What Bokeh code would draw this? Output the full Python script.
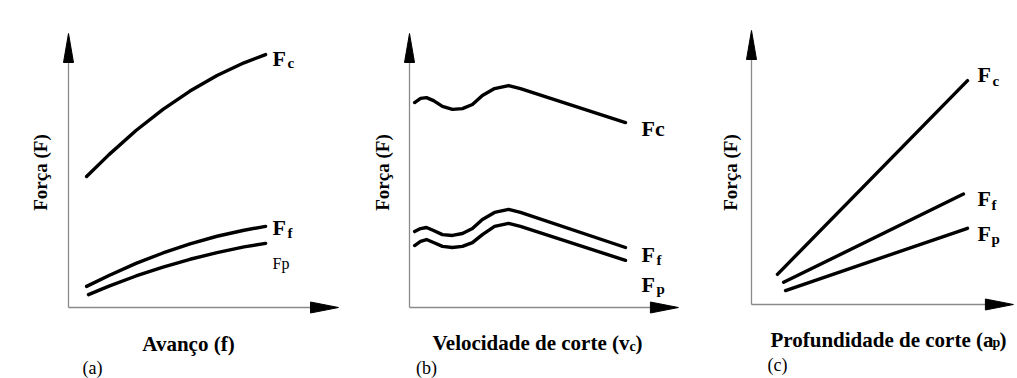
import math
from bokeh.plotting import figure
from bokeh.layouts import row
from bokeh.models import Range1d, Label
from bokeh.embed import file_html
from bokeh.resources import INLINE

# ---------------- data (schematic force curves, arbitrary units 0..10) -------------
# Panel (a): Força vs Avanço (f)
a_x_fc = [0.67, 1.5, 2.5, 3.5, 4.5, 5.5, 6.5, 7.3]
a_fc = [4.78, 5.58, 6.46, 7.23, 7.90, 8.47, 8.93, 9.23]
a_x_ff = [0.67, 1.5, 2.5, 3.5, 4.5, 5.5, 6.5, 7.3]
a_ff = [0.77, 1.17, 1.61, 1.99, 2.32, 2.60, 2.82, 2.96]
a_x_fp = [0.74, 1.5, 2.5, 3.5, 4.5, 5.5, 6.5, 7.3]
a_fp = [0.47, 0.78, 1.15, 1.47, 1.76, 2.00, 2.21, 2.34]

# Panel (b): Força vs Velocidade de corte (vc)
b_x = [0.19, 0.41, 0.63, 0.89, 1.22, 1.59, 1.96, 2.33, 2.70, 3.15, 3.67, 4.11, 8.0]
b_fc = [7.48, 7.63, 7.66, 7.55, 7.34, 7.23, 7.26, 7.41, 7.74, 7.99, 8.10, 7.99, 6.75]
b_ff = [2.77, 2.88, 2.92, 2.81, 2.66, 2.63, 2.70, 2.88, 3.21, 3.47, 3.58, 3.47, 2.19]
b_fp = [2.26, 2.41, 2.48, 2.37, 2.23, 2.19, 2.23, 2.37, 2.66, 2.96, 3.07, 2.96, 1.72]

# Panel (c): Força vs Profundidade de corte (ap)
c_x_fc = [0.96, 8.0]
c_fc = [1.10, 8.17]
c_x_ff = [1.19, 7.85]
c_ff = [0.81, 4.03]
c_x_fp = [1.26, 8.0]
c_fp = [0.51, 2.78]

# ---------------- layout / style ----------------
SX, SY = 27.0, 27.4          # px per unit
TOP, BOTTOM = 0, 378          # page px of figure top / bottom
FONT = "'Liberation Serif', 'Times New Roman', serif"
AXIS_COLOR = "#8a8a8a"


def make_panel(left, width, ox, oy, x_tip, y_tip):
    p = figure(width=width, height=BOTTOM - TOP, output_backend="svg",
               toolbar_location=None, min_border=0,
               x_axis_location=None, y_axis_location=None,
               x_range=Range1d((left - ox) / SX, (left + width - ox) / SX),
               y_range=Range1d((oy - BOTTOM) / SY, (oy - TOP) / SY))
    p.grid.visible = False
    p.outline_line_color = None
    p.background_fill_color = "white"
    p.border_fill_color = "white"
    head_len_x = 28 / SX
    head_len_y = 29 / SY
    hw_x = 5.0 / SX
    hw_y = 5.5 / SY
    # axis lines
    p.line([0, 0], [0, y_tip - head_len_y], line_color=AXIS_COLOR, line_width=1.3)
    p.line([0, x_tip - head_len_x], [0, 0], line_color=AXIS_COLOR, line_width=1.3)
    # arrow heads
    p.patch([-hw_x, 0, hw_x], [y_tip - head_len_y, y_tip, y_tip - head_len_y],
            fill_color="black", line_color="black", line_width=1)
    p.patch([x_tip - head_len_x, x_tip, x_tip - head_len_x], [hw_y, 0, -hw_y],
            fill_color="black", line_color="black", line_width=1)
    p._ox, p._oy = ox, oy
    return p


def lab(p, px, py, text, size, bold=True, align="left", angle=0.0,
        baseline="alphabetic"):
    p.add_layout(Label(x=(px - p._ox) / SX, y=(p._oy - py) / SY, text=text,
                       text_font=FONT, text_font_size=f"{size}px",
                       text_font_style="bold" if bold else "normal",
                       text_align=align, text_baseline=baseline, angle=angle,
                       text_color="black"))


def curve(p, xs, ys):
    p.line(xs, ys, line_color="black", line_width=3.4, line_cap="round",
           line_join="round")


FS, SUB, TITLE, YT = 22, 15, 21, 19

# ---- panel (a)
pa = make_panel(0, 344, 68, 307, 10.0, 10.0)
curve(pa, a_x_fc, a_fc)
curve(pa, a_x_ff, a_ff)
curve(pa, a_x_fp, a_fp)
lab(pa, 272, 58, "F", FS)
lab(pa, 287, 62, "c", SUB)
lab(pa, 272, 227, "F", FS)
lab(pa, 287, 232, "f", SUB)
lab(pa, 272, 263, "Fp", 16, bold=False)
lab(pa, 40, 172, "Força (F)", YT, align="center", angle=math.pi / 2,
    baseline="middle")
lab(pa, 188, 343, "Avanço (f)", TITLE, align="center")
lab(pa, 92, 367, "(a)", 18, bold=False, align="center")

# ---- panel (b)
pb = make_panel(344, 336, 409, 307, 9.96, 10.0)
curve(pb, b_x, b_fc)
curve(pb, b_x, b_ff)
curve(pb, b_x, b_fp)
lab(pb, 641, 128, "Fc", FS)
lab(pb, 641, 254, "F", FS)
lab(pb, 656, 259, "f", SUB)
lab(pb, 641, 284, "F", FS)
lab(pb, 656, 288, "p", SUB)
lab(pb, 382, 172, "Força (F)", YT, align="center", angle=math.pi / 2,
    baseline="middle")
lab(pb, 629, 342, "Velocidade de corte (v", TITLE, align="right")
lab(pb, 629, 346, "c", 14)
lab(pb, 635, 342, ")", TITLE)
lab(pb, 426, 367, "(b)", 18, bold=False, align="center")

# ---- panel (c)
pc = make_panel(680, 335, 751, 304, 9.7, 10.0)
curve(pc, c_x_fc, c_fc)
curve(pc, c_x_ff, c_ff)
curve(pc, c_x_fp, c_fp)
lab(pc, 977, 74, "F", FS)
lab(pc, 992, 80, "c", SUB)
lab(pc, 977, 198, "F", FS)
lab(pc, 991, 204, "f", SUB)
lab(pc, 977, 233, "F", FS)
lab(pc, 991, 238, "p", SUB)
lab(pc, 730, 172, "Força (F)", YT, align="center", angle=math.pi / 2,
    baseline="middle")
lab(pc, 993, 339, "Profundidade de corte (a", TITLE, align="right")
lab(pc, 992, 342, "p", 14)
lab(pc, 999, 339, ")", TITLE)
lab(pc, 777, 364, "(c)", 18, bold=False, align="center")

layout = row(pa, pb, pc, spacing=0)
open("out.html", "w").write(file_html(layout, INLINE))
